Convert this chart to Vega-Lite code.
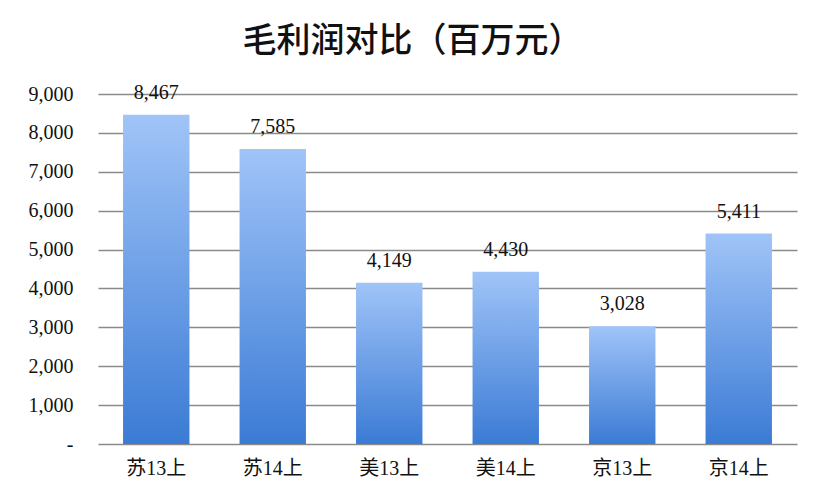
{
  "$schema": "https://vega.github.io/schema/vega-lite/v6.json",
  "width": 827,
  "height": 498,
  "autosize": {"type": "fit", "contains": "padding"},
  "padding": {"left": 28, "right": 30, "top": 26, "bottom": 20},
  "background": "white",
  "title": {
    "text": "毛利润对比（百万元）",
    "font": "Noto Sans CJK SC",
    "fontSize": 34,
    "fontWeight": 500,
    "color": "#111111",
    "anchor": "middle",
    "frame": "bounds",
    "offset": 24
  },
  "data": {
    "values": [
      {"item": "苏13上", "profit": 8467},
      {"item": "苏14上", "profit": 7585},
      {"item": "美13上", "profit": 4149},
      {"item": "美14上", "profit": 4430},
      {"item": "京13上", "profit": 3028},
      {"item": "京14上", "profit": 5411}
    ]
  },
  "config": {
    "view": {"stroke": null}
  },
  "encoding": {
    "x": {
      "field": "item",
      "type": "nominal",
      "sort": null,
      "scale": {"paddingInner": 0.43, "paddingOuter": 0.215},
      "axis": {
        "title": null,
        "labelAngle": 0,
        "labelPadding": 14,
        "grid": false,
        "domain": false,
        "ticks": false,
        "labelFont": "Liberation Serif, Noto Sans CJK SC",
        "labelFontSize": 20,
        "labelColor": "#111111"
      }
    },
    "y": {
      "field": "profit",
      "type": "quantitative",
      "scale": {"domain": [0, 9000]},
      "axis": {
        "title": null,
        "values": [0, 1000, 2000, 3000, 4000, 5000, 6000, 7000, 8000, 9000],
        "labelExpr": "datum.value == 0 ? '-' : format(datum.value, ',')",
        "labelOverlap": false,
        "labelPadding": 25,
        "labelFont": "Liberation Serif",
        "labelFontSize": 20,
        "labelColor": "#111111",
        "domain": false,
        "ticks": false,
        "gridColor": "#8a8a8a",
        "gridWidth": 1.5
      }
    }
  },
  "layer": [
    {
      "mark": {
        "type": "bar",
        "color": {
          "gradient": "linear",
          "x1": 0, "y1": 0, "x2": 0, "y2": 1,
          "stops": [
            {"offset": 0, "color": "#a0c4f8"},
            {"offset": 1, "color": "#3b7bd5"}
          ]
        }
      }
    },
    {
      "mark": {
        "type": "text",
        "baseline": "bottom",
        "dy": -12,
        "font": "Liberation Serif",
        "fontSize": 20,
        "color": "#111111"
      },
      "encoding": {
        "text": {"field": "profit", "type": "quantitative", "format": ","}
      }
    }
  ]
}
